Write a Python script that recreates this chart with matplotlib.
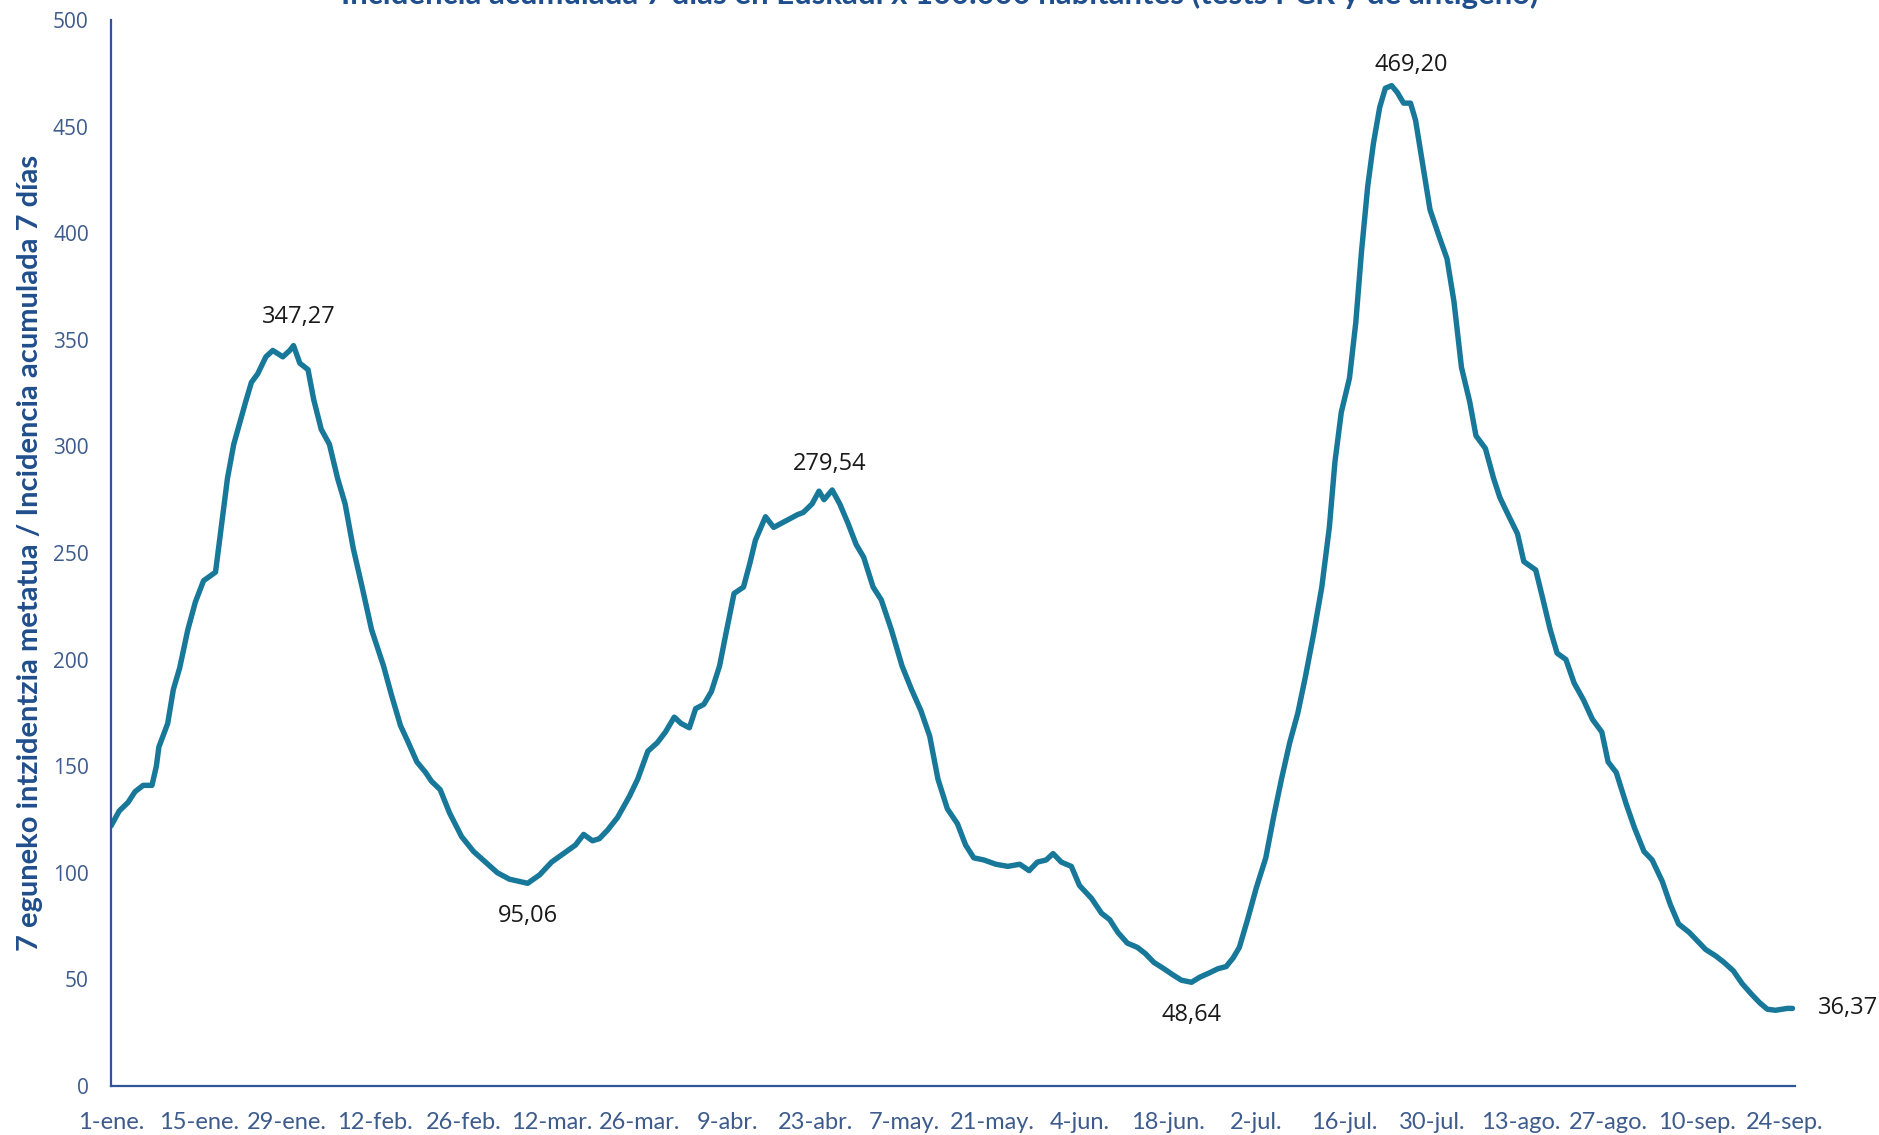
import matplotlib
matplotlib.use("Agg")
import matplotlib.pyplot as plt

# days since 1 Jan 2021
days = [0, 1.3, 2.7, 3.8, 5.1, 6.5, 7.2, 7.6, 9, 9.9, 10.9, 12.2, 13.4, 14.7, 16.6,
        17.5, 18.5, 19.5, 21.4, 22.3, 23.3, 24.6, 25.7, 27.3, 28.4, 29, 30, 31.3,
        32.2, 33.4, 34.7, 36, 37.2, 38.5, 39.9, 41.4, 43.3, 44.6, 46, 47.1, 48.6,
        50, 50.9, 52.3, 53.8, 55.7, 57.6, 59.5, 61.4, 63.3, 66.2, 68.1, 70, 71.9,
        73.8, 75.1, 76.5, 77.6, 78.9, 80.5, 82.4, 83.7, 85.3, 86.8, 88.1, 89.5,
        90.6, 91.9, 92.9, 94.2, 95.4, 96.7, 97.7, 99, 100.5, 101.5, 102.4, 104,
        105.3, 107.2, 109.1, 110, 111.4, 112.5, 113.3, 114.6, 115.8, 117.1, 118.4,
        119.6, 121.1, 122.4, 124, 125.7, 127.2, 128.7, 130.1, 131.4, 132.9, 134.5,
        135.8, 137.1, 138.7, 140.6, 142.5, 144.4, 145.9, 147.2, 148.6, 149.7, 151,
        152.6, 153.9, 155.8, 157.4, 158.7, 160, 161.5, 163.1, 164.4, 165.7, 167.3,
        168.8, 170.1, 171.7, 173, 174.5, 175.9, 177.2, 178.3, 179.3, 180.6, 182,
        183.5, 184.8, 186, 187.3, 188.6, 189.8, 191.1, 192.4, 193.6, 194.5, 195.5,
        196.8, 197.8, 198.7, 199.7, 200.6, 201.6, 202.5, 203.5, 204.4, 205.4, 206.5,
        207.3, 208.5, 209.6, 211.1, 212.3, 213.4, 214.6, 215.9, 216.9, 218.4, 219.7,
        220.7, 222, 223.5, 224.5, 226.4, 227.4, 228.7, 229.8, 231.2, 232.5, 234,
        235.4, 236.9, 237.9, 239.2, 240.8, 242.1, 243.6, 244.9, 246.5, 247.8, 249.1,
        250.8, 252.1, 253.4, 255, 256.3, 257.8, 259.2, 260.7, 262, 263.2, 264.5,
        266.4, 267.2]

incidence = [122, 129, 133, 138, 141, 141, 150, 159, 170, 186, 196, 214, 227, 237, 241,
             262, 285, 301, 321, 330, 334, 342, 345, 342, 345, 347.27, 339, 336,
             322, 308, 301, 285, 273, 252, 234, 214, 197, 183, 169, 162, 152,
             147, 143, 139, 128, 117, 110, 105, 100, 97, 95.06, 99, 105, 109,
             113, 118, 115, 116, 120, 126, 136, 144, 157, 161, 166, 173,
             170, 168, 177, 179, 185, 197, 212, 231, 234, 245, 256, 267,
             262, 265, 268, 269, 273, 279, 275, 279.54, 273, 264, 254,
             248, 234, 228, 214, 197, 186, 176, 164, 144, 130, 123,
             113, 107, 106, 104, 103, 104, 101, 105, 106, 109, 105,
             103, 94, 88, 81, 78, 72, 67, 65, 62, 58, 55,
             52, 49.6, 48.64, 51, 53, 55, 56, 60, 65, 78, 93,
             107, 127, 144, 161, 175, 192, 212, 234, 262, 293, 316,
             332, 358, 391, 422, 442, 459, 468, 469.20, 466, 461, 461,
             453, 431, 411, 398, 388, 368, 337, 321, 305, 299, 285,
             276, 268, 259, 246, 242, 230, 214, 203, 200, 189, 181,
             172, 166, 152, 147, 132, 121, 110, 106, 96, 85, 76,
             72, 68, 64, 61, 58, 54, 48, 43, 39, 36, 35.5,
             36.4, 36.37]

tick_days = list(range(0, 267, 14))
tick_labels = ['1-ene.', '15-ene.', '29-ene.', '12-feb.', '26-feb.', '12-mar.',
               '26-mar.', '9-abr.', '23-abr.', '7-may.', '21-may.', '4-jun.',
               '18-jun.', '2-jul.', '16-jul.', '30-jul.', '13-ago.', '27-ago.',
               '10-sep.', '24-sep.']

label_values = [347.27, 95.06, 279.54, 48.64, 469.20, 36.37]
label_texts = ['347,27', '95,06', '279,54', '48,64', '469,20', '36,37']

line_color = '#18789a'
axis_color = '#2f5597'
tick_color = '#3d5b8c'
title_color = '#1f4e8c'

fig = plt.figure(figsize=(18.79, 11.35), dpi=100)
ax = fig.add_axes([0.0591, 0.0432, 0.8962, 0.9392])

ax.plot(days, incidence, color=line_color, linewidth=3.9, solid_capstyle='round',
        solid_joinstyle='round')

ax.set_xlim(0, 267.6)
ax.set_ylim(0, 500)
ax.set_yticks(range(0, 501, 50))
ax.set_xticks(tick_days)
ax.set_xticklabels(tick_labels, family='Lato', fontsize=17, color=tick_color)
for lab in ax.get_yticklabels():
    lab.set_family('Open Sans')
    lab.set_fontsize(15)
    lab.set_color(tick_color)
ax.tick_params(axis='both', length=0)
ax.tick_params(axis='x', pad=19)
ax.tick_params(axis='y', pad=16)

for side in ['top', 'right']:
    ax.spines[side].set_visible(False)
for side in ['left', 'bottom']:
    ax.spines[side].set_color(axis_color)
    ax.spines[side].set_linewidth(1.6)

ax.set_ylabel('7 eguneko intzidentzia metatua / Incidencia acumulada 7 días',
              family='Lato', fontsize=21, fontweight='bold',
              color=title_color, labelpad=7)

# offsets in points for each data label
offsets = [(4, 12), (0, -15), (-2, 10), (0, -15), (14, 6), (18, 0)]
aligns = [('center', 'bottom'), ('center', 'top'), ('center', 'bottom'),
          ('center', 'top'), ('center', 'bottom'), ('left', 'center')]
for v, txt, off, (ha, va) in zip(label_values, label_texts, offsets, aligns):
    i = incidence.index(v)
    ax.annotate(txt, (days[i], incidence[i]), xytext=off, textcoords='offset points',
                ha=ha, va=va, fontsize=17, family='Open Sans', color='#1a1a1a')

fig.text(0.5, 1 - 4 / 1135,
         'Incidencia acumulada 7 días en Euskadi x 100.000 habitantes (tests PCR y de antígeno)',
         ha='center', va='baseline', fontsize=22.4, fontweight='bold',
         family='Lato', color=title_color)

fig.savefig('out.png', dpi=100)
